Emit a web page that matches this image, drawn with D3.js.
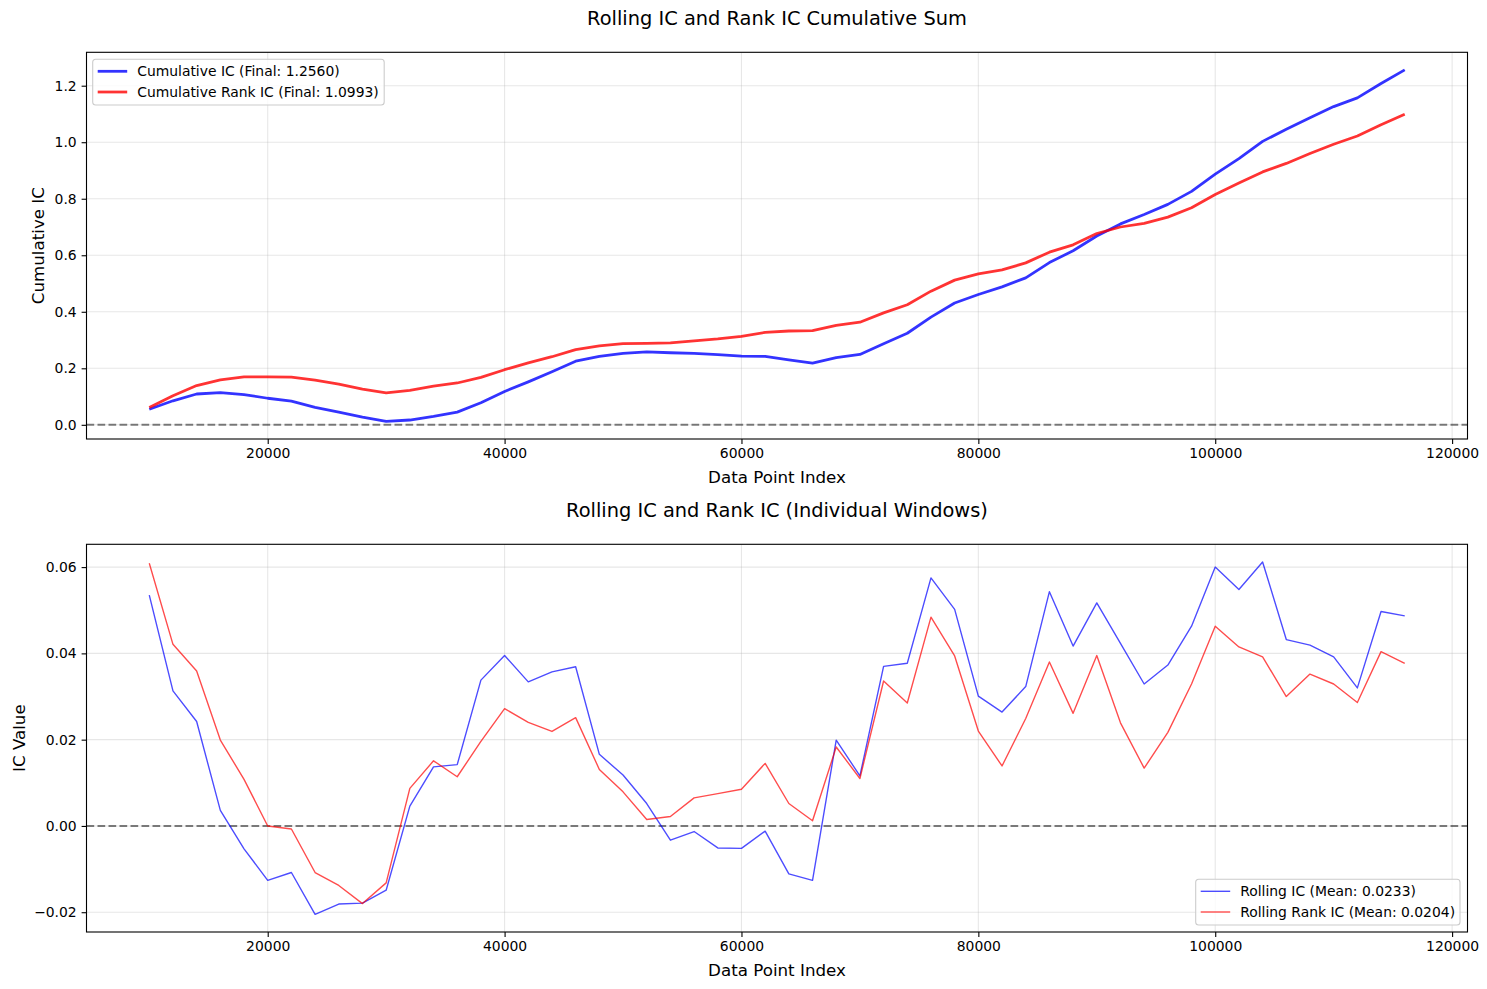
<!DOCTYPE html>
<html>
<head>
<meta charset="utf-8">
<script src="https://cdn.jsdelivr.net/npm/d3@7"></script>
<style>
  body { margin: 0; background: #fff; }
  svg text { font-family: "DejaVu Sans", sans-serif; fill: #000; }
</style>
</head>
<body>
<div id="chart"></div>
<script>
// window end index for each rolling window
const windowIndex = [10000, 12000, 14000, 16000, 18000, 20000, 22000, 24000, 26000, 28000,
  30000, 32000, 34000, 36000, 38000, 40000, 42000, 44000, 46000, 48000,
  50000, 52000, 54000, 56000, 58000, 60000, 62000, 64000, 66000, 68000,
  70000, 72000, 74000, 76000, 78000, 80000, 82000, 84000, 86000, 88000,
  90000, 92000, 94000, 96000, 98000, 100000, 102000, 104000, 106000, 108000,
  110000, 112000, 114000, 116000];

// bottom panel
const rollingIC = [0.0535, 0.0313, 0.0242, 0.0036, -0.0053, -0.0126, -0.0108, -0.0205, -0.0181, -0.0179,
  -0.0149, 0.0046, 0.0137, 0.0142, 0.0338, 0.0395, 0.0334, 0.0357, 0.0369, 0.0166,
  0.0118, 0.0052, -0.0033, -0.0013, -0.0051, -0.0052, -0.0012, -0.0111, -0.0126, 0.0199,
  0.0116, 0.0370, 0.0377, 0.0575, 0.0502, 0.0301, 0.0264, 0.0323, 0.0543, 0.0417,
  0.0517, 0.0423, 0.0329, 0.0373, 0.0463, 0.0600, 0.0548, 0.0612, 0.0432, 0.0419,
  0.0392, 0.0320, 0.0497, 0.0487];

const rollingRankIC = [0.0609, 0.0421, 0.0359, 0.0199, 0.0108, 0.0000, -0.0007, -0.0108, -0.0138, -0.0180,
  -0.0132, 0.0087, 0.0151, 0.0114, 0.0196, 0.0272, 0.0240, 0.0219, 0.0251, 0.0131,
  0.0079, 0.0015, 0.0022, 0.0065, 0.0075, 0.0085, 0.0145, 0.0052, 0.0012, 0.0183,
  0.0110, 0.0336, 0.0285, 0.0484, 0.0394, 0.0220, 0.0139, 0.0249, 0.0380, 0.0261,
  0.0395, 0.0239, 0.0134, 0.0217, 0.0329, 0.0463, 0.0415, 0.0392, 0.0300, 0.0352,
  0.0329, 0.0286, 0.0404, 0.0377];

// top panel
const cumIC = [0.055, 0.085, 0.109, 0.114, 0.107, 0.094, 0.084, 0.062, 0.045, 0.027,
  0.012, 0.017, 0.030, 0.045, 0.078, 0.118, 0.152, 0.188, 0.225, 0.242,
  0.253, 0.258, 0.255, 0.253, 0.248, 0.243, 0.242, 0.230, 0.218, 0.238,
  0.249, 0.287, 0.324, 0.381, 0.431, 0.461, 0.488, 0.520, 0.574, 0.616,
  0.668, 0.711, 0.744, 0.780, 0.826, 0.887, 0.942, 1.003, 1.046, 1.087,
  1.126, 1.157, 1.208, 1.256];

const cumRankIC = [0.061, 0.103, 0.139, 0.159, 0.170, 0.170, 0.169, 0.158, 0.144, 0.126,
  0.113, 0.122, 0.137, 0.148, 0.168, 0.195, 0.219, 0.241, 0.266, 0.279,
  0.287, 0.288, 0.290, 0.297, 0.304, 0.313, 0.327, 0.332, 0.333, 0.352,
  0.363, 0.396, 0.425, 0.473, 0.512, 0.534, 0.548, 0.573, 0.611, 0.637,
  0.677, 0.700, 0.713, 0.735, 0.768, 0.815, 0.856, 0.895, 0.925, 0.960,
  0.993, 1.022, 1.062, 1.099];

const xTicks = [20000, 40000, 60000, 80000, 100000, 120000];
const topTicks = [0.0, 0.2, 0.4, 0.6, 0.8, 1.0, 1.2];
const bottomTicks = [-0.02, 0.00, 0.02, 0.04, 0.06];

const W = 1487, H = 989;
const left = 86.5, right = 1467.5;

const svg = d3.select("#chart").append("svg")
  .attr("width", W)
  .attr("height", H);

// matplotlib style 5% padding
const padded = (vals) => {
  const [lo, hi] = d3.extent(vals);
  const m = (hi - lo) * 0.05;
  return [lo - m, hi + m];
};

const x = d3.scaleLinear().domain(padded(windowIndex)).range([left, right]);

const drawPanel = (cfg) => {
  const y = d3.scaleLinear().domain(padded(cfg.series.flatMap(s => s.values))).range([cfg.bottom, cfg.top]);
  const g = svg.append("g");

  // grid
  g.append("g").selectAll("line").data(xTicks).join("line")
    .attr("x1", d => x(d)).attr("x2", d => x(d))
    .attr("y1", cfg.top).attr("y2", cfg.bottom)
    .attr("stroke", "#b0b0b0").attr("stroke-opacity", 0.3).attr("stroke-width", 1.1);
  g.append("g").selectAll("line").data(cfg.ticks).join("line")
    .attr("x1", left).attr("x2", right)
    .attr("y1", d => y(d)).attr("y2", d => y(d))
    .attr("stroke", "#b0b0b0").attr("stroke-opacity", 0.3).attr("stroke-width", 1.1);

  // zero line
  g.append("line")
    .attr("x1", left).attr("x2", right)
    .attr("y1", y(0)).attr("y2", y(0))
    .attr("stroke", "#000").attr("stroke-opacity", 0.5)
    .attr("stroke-width", 2.08).attr("stroke-dasharray", "7.7,3.3");

  const clipId = "clip" + cfg.id;
  svg.append("clipPath").attr("id", clipId).append("rect")
    .attr("x", left).attr("y", cfg.top).attr("width", right - left).attr("height", cfg.bottom - cfg.top);

  const line = d3.line().x((d, i) => x(windowIndex[i])).y(d => y(d));
  cfg.series.forEach(s => {
    g.append("path")
      .datum(s.values)
      .attr("clip-path", `url(#${clipId})`)
      .attr("d", line)
      .attr("fill", "none")
      .attr("stroke", s.color)
      .attr("stroke-opacity", cfg.alpha)
      .attr("stroke-width", cfg.lw)
      .attr("stroke-linejoin", "round");
  });

  // axes
  const xAxis = d3.axisBottom(x).tickValues(xTicks).tickFormat(d3.format("d")).tickSize(4.9).tickPadding(4.2);
  const ax = g.append("g").attr("transform", `translate(0,${cfg.bottom})`).call(xAxis);
  const yAxis = d3.axisLeft(y).tickValues(cfg.ticks).tickFormat(cfg.fmt).tickSize(4.9).tickPadding(4.9);
  const ay = g.append("g").attr("transform", `translate(${left},0)`).call(yAxis);
  [ax, ay].forEach(a => {
    a.select(".domain").remove();
    a.selectAll(".tick line").attr("stroke", "#000").attr("stroke-width", 1.1);
    a.selectAll(".tick text").attr("font-size", 13.9).attr("font-family", "DejaVu Sans").attr("fill", "#000");
  });

  // frame
  g.append("rect")
    .attr("x", left).attr("y", cfg.top)
    .attr("width", right - left).attr("height", cfg.bottom - cfg.top)
    .attr("fill", "none").attr("stroke", "#000").attr("stroke-width", 1.1);

  // title and labels
  g.append("text")
    .attr("x", (left + right) / 2).attr("y", cfg.top - 27.6)
    .attr("text-anchor", "middle").attr("font-size", 19.4)
    .text(cfg.title);
  g.append("text")
    .attr("x", (left + right) / 2).attr("y", cfg.bottom + 43.8)
    .attr("text-anchor", "middle").attr("font-size", 16.7)
    .text("Data Point Index");
  g.append("text")
    .attr("transform", `translate(${cfg.ylabelX},${(cfg.top + cfg.bottom) / 2}) rotate(-90)`)
    .attr("text-anchor", "middle").attr("font-size", 16.7)
    .text(cfg.ylabel);

  // legend
  const lg = g.append("g").attr("transform", `translate(${cfg.legend.x},${cfg.legend.y})`);
  lg.append("rect")
    .attr("width", cfg.legend.w).attr("height", 45.7).attr("rx", 3)
    .attr("fill", "#fff").attr("fill-opacity", 0.8)
    .attr("stroke", "#cccccc").attr("stroke-width", 1.1);
  cfg.series.forEach((s, i) => {
    const yy = 12 + i * 20.7;
    lg.append("line")
      .attr("x1", 5).attr("x2", 34.5).attr("y1", yy).attr("y2", yy)
      .attr("stroke", s.color).attr("stroke-opacity", cfg.alpha).attr("stroke-width", cfg.lw);
    lg.append("text")
      .attr("x", 44.5).attr("y", yy + 5)
      .attr("font-size", 13.9)
      .text(s.label);
  });
};

drawPanel({
  id: "top",
  top: 52.3, bottom: 439,
  title: "Rolling IC and Rank IC Cumulative Sum",
  ylabel: "Cumulative IC",
  ylabelX: 43.5,
  ticks: topTicks,
  fmt: d3.format(".1f"),
  lw: 2.78, alpha: 0.8,
  legend: { x: 92.7, y: 59.3, w: 291.5 },
  series: [
    { values: cumIC, color: "blue", label: "Cumulative IC (Final: 1.2560)" },
    { values: cumRankIC, color: "red", label: "Cumulative Rank IC (Final: 1.0993)" }
  ]
});

drawPanel({
  id: "bottom",
  top: 544.3, bottom: 932,
  title: "Rolling IC and Rank IC (Individual Windows)",
  ylabel: "IC Value",
  ylabelX: 25,
  ticks: bottomTicks,
  fmt: d => d3.format(".2f")(d).replace("-", "\u2212"),
  lw: 1.39, alpha: 0.7,
  legend: { x: 1195.7, y: 879.3, w: 264.3 },
  series: [
    { values: rollingIC, color: "blue", label: "Rolling IC (Mean: 0.0233)" },
    { values: rollingRankIC, color: "red", label: "Rolling Rank IC (Mean: 0.0204)" }
  ]
});
</script>
</body>
</html>
